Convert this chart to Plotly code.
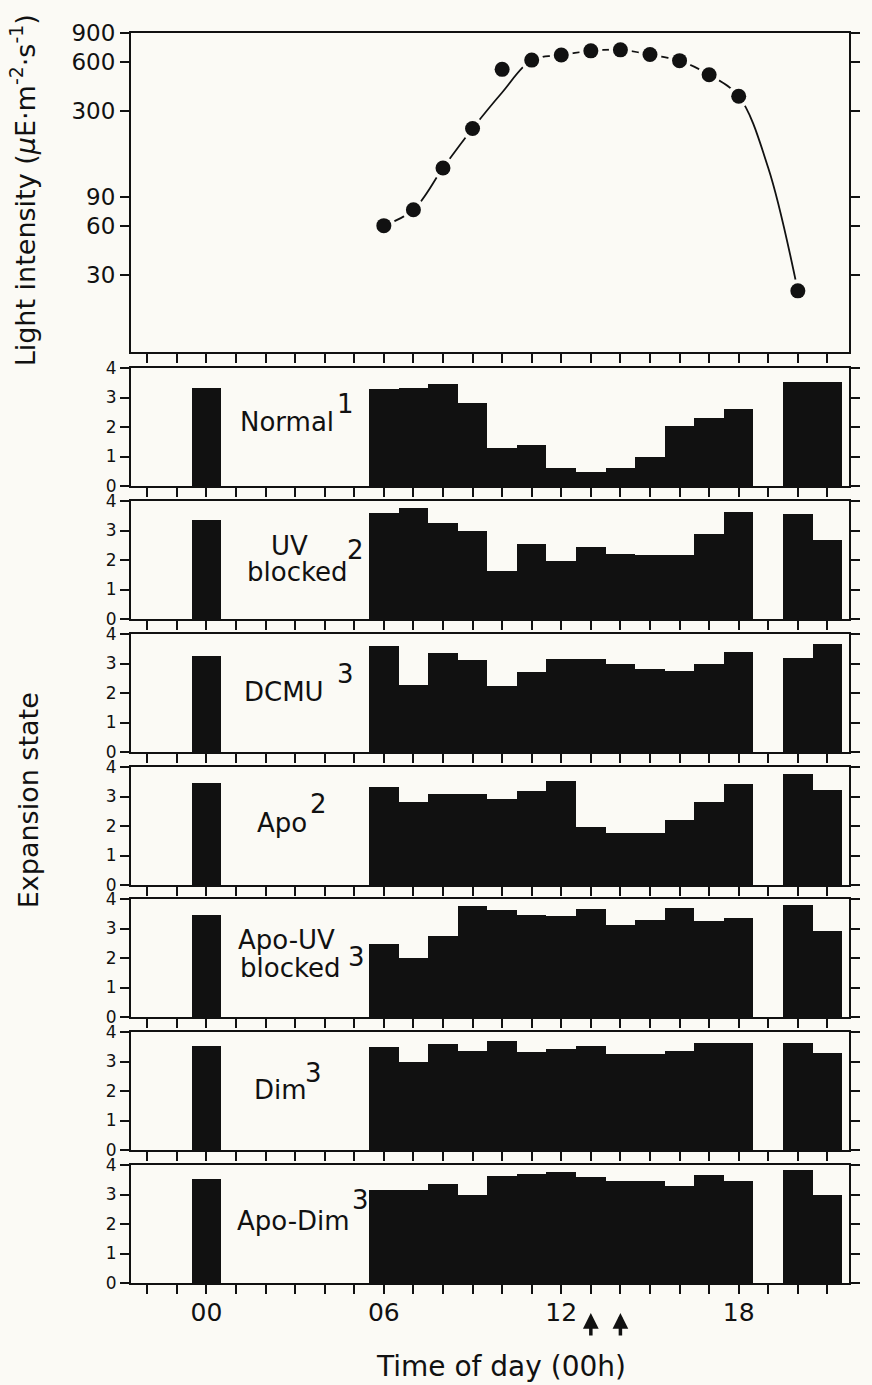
import plotly.graph_objects as go

# ---------------- data ----------------
hour_ticks = list(range(-2, 22))
hour_tick_labels = {0: "00", 6: "06", 12: "12", 18: "18"}

light_hours = [6, 7, 8, 9, 10, 11, 12, 13, 14, 15, 16, 17, 18, 20]
light_values = [60, 75, 135, 235, 540, 615, 660, 700, 710, 665, 610, 500, 370, 24]
fit_hours = [6, 7, 8, 9, 10, 11, 12, 13, 14, 15, 16, 17, 18, 19, 20]
fit_values = [60, 75, 135, 235, 390, 615, 660, 700, 710, 665, 610, 500, 370, 135, 24]
light_ticks = [30, 60, 90, 300, 600, 900]

bar_hours = [0, 6, 7, 8, 9, 10, 11, 12, 13, 14, 15, 16, 17, 18, 20, 21]
normal = [3.32, 3.30, 3.32, 3.46, 2.82, 1.30, 1.40, 0.60, 0.46, 0.62, 0.97, 2.02, 2.30, 2.62, 3.52, 3.52]
uv_blocked = [3.35, 3.60, 3.77, 3.25, 2.99, 1.64, 2.53, 1.98, 2.44, 2.22, 2.16, 2.16, 2.87, 3.62, 3.56, 2.68]
dcmu = [3.27, 3.61, 2.28, 3.34, 3.11, 2.25, 2.70, 3.14, 3.14, 2.99, 2.80, 2.76, 2.99, 3.39, 3.17, 3.65]
apo = [3.45, 3.31, 2.80, 3.08, 3.08, 2.90, 3.18, 3.52, 1.97, 1.77, 1.77, 2.19, 2.82, 3.44, 3.75, 3.22]
apo_uv_blocked = [3.45, 2.49, 1.99, 2.74, 3.75, 3.62, 3.47, 3.42, 3.66, 3.13, 3.28, 3.70, 3.25, 3.34, 3.78, 2.91]
dim = [3.52, 3.49, 3.00, 3.58, 3.34, 3.70, 3.33, 3.42, 3.53, 3.25, 3.25, 3.36, 3.64, 3.64, 3.62, 3.28]
apo_dim = [3.53, 3.16, 3.16, 3.36, 2.99, 3.64, 3.70, 3.76, 3.61, 3.47, 3.47, 3.30, 3.67, 3.47, 3.84, 2.99]

panel_series = [normal, uv_blocked, dcmu, apo, apo_uv_blocked, dim, apo_dim]
panel_label_lines = [["Normal"], ["UV", "blocked"], ["DCMU"], ["Apo"],
                     ["Apo-UV", "blocked"], ["Dim"], ["Apo-Dim"]]
panel_notes = ["1", "2", "3", "2", "3", "3", "3"]
state_ticks = [0, 1, 2, 3, 4]
arrow_hours = [13, 14]

# ---------------- layout geometry / style ----------------
W, H = 872, 1385
L, R, T, B = 131, 14, 33, 102
PW, PH = W - L - R, H - T - B
BG = "#fbfaf5"
INK = "#111111"
FONT = "DejaVu Sans"


def yp(p):
    return (H - B - p) / PH


def xp(p):
    return (p - L) / PW


top_box = (33, 352)
panel_tops = [368, 501, 634, 767, 899, 1032, 1165]
panel_h = 118
label_line_pos = [[(289, 422)], [(291, 546), (300, 572)], [(286, 692)], [(284, 823)],
                  [(288, 940), (292, 968)], [(282, 1090)], [(296, 1221)]]
note_pos = [(348, 404), (358, 550), (348, 674), (321, 804), (359, 957), (316, 1073), (363, 1200)]

XR = [-2.55, 21.73]
LABEL_SIZE = 26

fig = go.Figure()
layout = dict(
    width=W, height=H,
    margin=dict(l=L, r=R, t=T, b=B),
    paper_bgcolor=BG, plot_bgcolor=BG,
    showlegend=False,
    font=dict(family=FONT, color=INK),
    bargap=0,
)


def xaxis_cfg(anchor, show_labels):
    return dict(
        domain=[0, 1], range=XR, anchor=anchor,
        tickmode="array", tickvals=hour_ticks,
        ticktext=[hour_tick_labels.get(h, "") for h in hour_ticks],
        showticklabels=show_labels, ticklabelstandoff=-3,
        ticks="outside", ticklen=9, tickwidth=2, tickcolor=INK,
        showline=True, linecolor=INK, linewidth=2, mirror=True,
        showgrid=False, zeroline=False,
        tickfont=dict(size=25, family=FONT, color=INK),
    )


# top panel (light intensity)
layout["xaxis"] = xaxis_cfg("y", False)
layout["yaxis"] = dict(
    domain=[yp(top_box[1]), yp(top_box[0])], anchor="x",
    type="log", range=[1.007, 2.9542],
    tickmode="array", tickvals=light_ticks, ticktext=[str(v) for v in light_ticks],
    ticks="outside", ticklen=9, tickwidth=2, tickcolor=INK,
    showline=True, linecolor=INK, linewidth=2, mirror="ticks",
    showgrid=False, zeroline=False,
    tickfont=dict(size=23, family=FONT, color=INK),
)

fig.add_trace(go.Scatter(x=fit_hours, y=fit_values, mode="lines",
                         line=dict(color=INK, width=1.8, shape="spline", smoothing=1.0),
                         xaxis="x", yaxis="y", hoverinfo="skip"))
fig.add_trace(go.Scatter(x=light_hours, y=light_values, mode="markers",
                         marker=dict(color=BG, size=23), xaxis="x", yaxis="y", hoverinfo="skip"))
fig.add_trace(go.Scatter(x=light_hours, y=light_values, mode="markers",
                         marker=dict(color=INK, size=15), xaxis="x", yaxis="y"))

annotations = []
for i, vals in enumerate(panel_series):
    k = i + 2
    top = panel_tops[i]
    layout[f"xaxis{k}"] = xaxis_cfg(f"y{k}", i == len(panel_series) - 1)
    layout[f"yaxis{k}"] = dict(
        domain=[yp(top + panel_h), yp(top)], anchor=f"x{k}",
        range=[0, 4], tickmode="array", tickvals=state_ticks,
        ticks="outside", ticklen=9, tickwidth=2, tickcolor=INK,
        showline=True, linecolor=INK, linewidth=2, mirror="ticks",
        showgrid=False, zeroline=False,
        tickfont=dict(size=17, family=FONT, color=INK),
    )
    fig.add_trace(go.Bar(x=bar_hours, y=vals, width=1.0,
                         marker=dict(color=INK, line=dict(width=0)),
                         xaxis=f"x{k}", yaxis=f"y{k}"))
    for line_text, (lx, ly) in zip(panel_label_lines[i], label_line_pos[i]):
        annotations.append(dict(text=line_text, x=xp(lx), y=yp(ly), xref="paper", yref="paper",
                                xanchor="center", yanchor="middle", showarrow=False,
                                font=dict(size=LABEL_SIZE, family=FONT, color=INK)))
    nx, ny = note_pos[i]
    annotations.append(dict(text=panel_notes[i], x=xp(nx), y=yp(ny), xref="paper", yref="paper",
                            xanchor="center", yanchor="middle", showarrow=False,
                            font=dict(size=LABEL_SIZE, family=FONT, color=INK)))

# axis titles
annotations.append(dict(text="Light intensity (<i>μ</i>E·m<sup>-2</sup>·s<sup>-1</sup>)",
                        x=xp(21), y=yp(190), xref="paper", yref="paper", textangle=-90,
                        xanchor="center", yanchor="middle", showarrow=False,
                        font=dict(size=27, family=FONT, color=INK)))
annotations.append(dict(text="Expansion state", x=xp(28), y=yp(800), xref="paper", yref="paper",
                        textangle=-90, xanchor="center", yanchor="middle", showarrow=False,
                        font=dict(size=27, family=FONT, color=INK)))
annotations.append(dict(text="Time of day (00h)", x=xp(506), y=yp(1366), xref="paper", yref="paper",
                        xanchor="center", yanchor="middle", showarrow=False,
                        font=dict(size=28, family=FONT, color=INK)))
# arrows below the time axis
for h in arrow_hours:
    annotations.append(dict(text="", x=h, y=yp(1313), xref="x8", yref="paper",
                            showarrow=True, ax=0, ay=24, arrowhead=2, arrowsize=0.9,
                            arrowwidth=3.5, arrowcolor=INK))

layout["annotations"] = annotations
fig.update_layout(**layout)
fig.write_html(
    "out.html",
    config={"displayModeBar": False},
    post_script="document.body.style.margin='0';document.body.style.background='#fbfaf5';",
)
